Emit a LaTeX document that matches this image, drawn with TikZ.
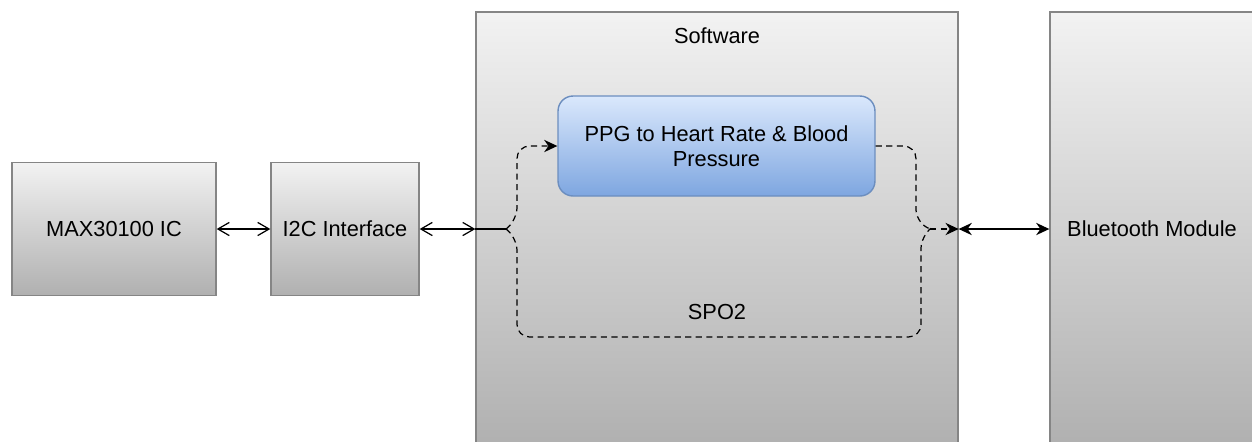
\documentclass[tikz,border=0pt]{standalone}
\usepackage{fontspec}
\setmainfont{Liberation Sans}
\usetikzlibrary{arrows.meta}

\definecolor{boxline}{HTML}{858585}
\definecolor{graytop}{HTML}{F2F2F2}
\definecolor{graybot}{HTML}{B0B0B0}
\definecolor{bluetop}{HTML}{DAE8FC}
\definecolor{bluebot}{HTML}{7EA6E0}
\definecolor{blueline}{HTML}{6C8EBF}

\begin{document}
\begin{tikzpicture}[x=0.02cm,y=-0.02cm,
    font=\fontsize{12.4}{14.5}\selectfont,
    graybox/.style={draw=boxline,line width=0.8pt,top color=graytop,bottom color=graybot,inner sep=0pt},
    ppgbox/.style={draw=blueline,line width=0.8pt,top color=bluetop,bottom color=bluebot,rounded corners=0.3cm,inner sep=0pt,align=center},
    openlink/.style={line width=0.7pt,{Straight Barb[length=6.5pt,width=7.5pt]}-{Straight Barb[length=6.5pt,width=7.5pt]}},
    filllink/.style={line width=0.7pt,{Stealth[length=7.5pt,width=7pt]}-{Stealth[length=7.5pt,width=7pt]}},
    dashlink/.style={line width=0.7pt,dash pattern=on 3.5pt off 2.5pt,rounded corners=0.25cm}]

    \useasboundingbox (0,0) rectangle (1252,441);
    \clip (0,0) rectangle (1252,441);

    % Blocks
    \node[graybox,minimum width=4.08cm,minimum height=2.66cm] (max) at (114,229) {MAX30100 IC};
    \node[graybox,minimum width=2.96cm,minimum height=2.66cm] (i2c) at (345,229) {I2C Interface};
    \node[graybox,minimum width=9.64cm,minimum height=8.68cm] (sw) at (717,229) {};
    \node[graybox,minimum width=4.08cm,minimum height=8.68cm] (bt) at (1152,229) {Bluetooth Module};
    \node (swlabel) at (717,36) {Software};
    \node[ppgbox,minimum width=6.34cm,minimum height=2cm] (ppg) at (716.5,146)
        {PPG to Heart Rate \& Blood\\Pressure};
    \node (spo) at (717,312) {SPO2};

    % Junctions
    \coordinate (jl) at (506,229);
    \coordinate (jr) at (930,229);

    % Links
    \draw[openlink] (max) -- (i2c);
    \draw[openlink] (i2c.east) -- (sw.west);
    \draw[line width=0.7pt] (sw.west) -- (jl);
    \draw[dashlink,-{Stealth[length=7.5pt,width=7pt]}] (jl) -- (517,220) -- (517,146) -- (ppg.west);
    \draw[dashlink] (jl) -- (517,238) -- (517,337) -- (921,337) -- (921,236) -- (jr);
    \draw[dashlink] (ppg.east) -- (916,146) -- (916,222) -- (jr);
    \draw[line width=0.7pt,dash pattern=on 3.5pt off 2.5pt,-{Stealth[length=7.5pt,width=7pt]}] (jr) -- (sw.east);
    \draw[filllink] (sw.east) -- (bt.west);
\end{tikzpicture}
\end{document}
